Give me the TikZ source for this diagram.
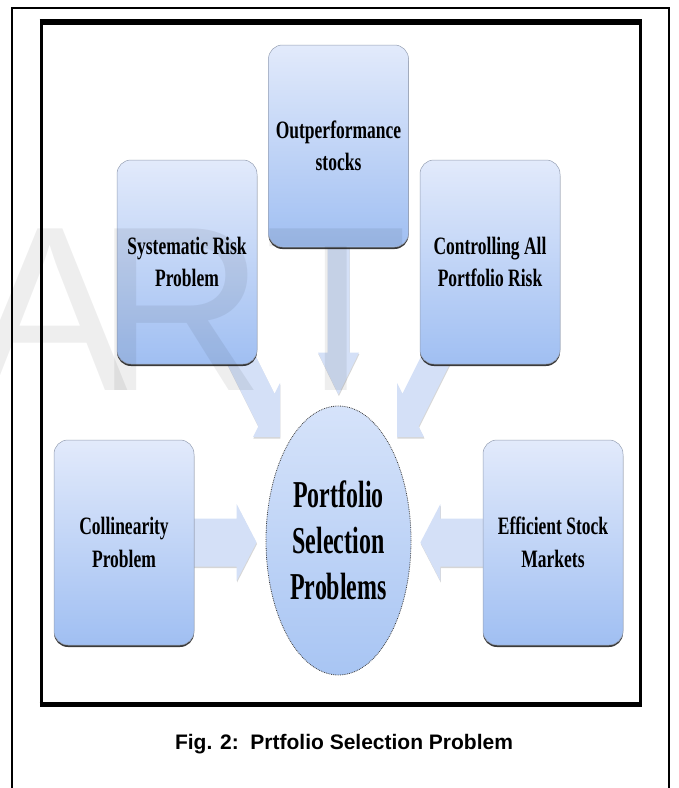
\documentclass[tikz,border=0pt]{standalone}
\usepackage{fontspec}
\setmainfont{Liberation Serif}
\newfontfamily\boxfont[FakeStretch=0.7]{Liberation Serif}
\newfontfamily\hubfont[FakeStretch=0.63]{Liberation Serif}
\newfontfamily\capfont{Liberation Sans}
\usetikzlibrary{calc,shadows,shapes.geometric}

\definecolor{boxtop}{RGB}{226,234,251}
\definecolor{boxbot}{RGB}{160,191,242}
\definecolor{hubtop}{RGB}{214,227,250}
\definecolor{hubbot}{RGB}{168,197,243}
\definecolor{boxedge}{RGB}{150,160,180}
\definecolor{arrowfill}{RGB}{212,224,247}

\pgfdeclarelayer{back}
\pgfdeclarelayer{front}
\pgfsetlayers{back,main,front}

\tikzset{
  topic/.style={rounded corners=14pt, minimum width=140pt, minimum height=204pt,
    top color=boxtop, bottom color=boxbot, draw=boxedge, line width=0.5pt,
    drop shadow={shadow xshift=0pt, shadow yshift=-2pt, fill=black!85, opacity=0.9},
    align=center, text=black, inner sep=0pt,
    font=\boxfont\bfseries\fontsize{25}{32.5}\selectfont},
  hubnode/.style={ellipse, minimum width=145pt, minimum height=269pt, inner sep=0pt,
    top color=hubtop, bottom color=hubbot, draw=black!75, densely dotted, line width=0.8pt,
    align=center, text=black,
    font=\hubfont\bfseries\fontsize{38}{46}\selectfont},
  flow/.style={fill=arrowfill, draw=none,
    drop shadow={shadow xshift=0.4pt, shadow yshift=-1.5pt, fill=black!35, opacity=0.45}},
  frame/.style={draw=black},
  wm/.style={font=\capfont\fontsize{235}{235}\selectfont, text=black, text opacity=0.065, inner sep=0pt},
  caption/.style={font=\capfont\bfseries\fontsize{21}{24}\selectfont, inner sep=0pt}
}

\begin{document}
\begin{tikzpicture}[x=1pt,y=-1pt]
\useasboundingbox (0,0) rectangle (679,788);

% page frame and figure frame
\draw[frame, line width=2pt] (11.5,7.5) rectangle (669,800);
\draw[frame, line width=3pt] (41,22) rectangle (640,704.5);
\draw[frame, line width=5.5pt] (39.5,22) -- (641.5,22);
\draw[frame, line width=5pt] (39.5,704.5) -- (641.5,704.5);

% central problem and the five topics around it
\node[hubnode] (hub) at (338.5,540.5) {Portfolio\\Selection\\Problems};
\node[topic, minimum height=202pt] (out) at (338.5,146) {Outperformance\\stocks};
\node[topic] (sys) at (187,262) {Systematic Risk\\Problem};
\node[topic] (ctl) at (490,262) {Controlling All\\Portfolio Risk};
\node[topic, minimum height=205pt] (col) at (124,542.5) {Collinearity\\Problem};
\node[topic, minimum height=205pt] (eff) at (553,542.5) {Efficient Stock\\Markets};

% block arrows pointing at the central ellipse
\coordinate (outTip) at ($(hub.north)+(0,-11)$);
\coordinate (sysTip) at ($(hub.center)+(-58.5,-103.5)$);
\coordinate (ctlTip) at ($(hub.center)+(58.5,-103.5)$);
\coordinate (colTip) at ($(col.east -| hub.west)+(-9,0)$);
\coordinate (effTip) at ($(eff.west -| hub.east)+(9,0)$);

\begin{pgfonlayer}{back}
  \fill[white] (0,0) rectangle (679,788);
  \fill[flow] ($(out.south)+(-11,-15)$) -- ($(outTip)+(-11,-42)$) -- ($(outTip)+(-20.5,-42)$)
    -- (outTip) -- ($(outTip)+(20.5,-42)$) -- ($(outTip)+(11,-42)$) -- ($(out.south)+(11,-15)$) -- cycle;
  \fill[flow] ($(sysTip)+(-40.4,-113.3)$) -- ($(sysTip)+(-5.4,-43.3)$) -- ($(sysTip)+(0,-54)$)
    -- (sysTip) -- ($(sysTip)+(-27,0)$) -- ($(sysTip)+(-21.6,-10.7)$) -- ($(sysTip)+(-56.6,-80.7)$) -- cycle;
  \fill[flow] ($(ctlTip)+(40.4,-113.3)$) -- ($(ctlTip)+(5.4,-43.3)$) -- ($(ctlTip)+(0,-54)$)
    -- (ctlTip) -- ($(ctlTip)+(27,0)$) -- ($(ctlTip)+(21.6,-10.7)$) -- ($(ctlTip)+(56.6,-80.7)$) -- cycle;
  \fill[flow] ($(col.east)+(-2,-24)$) -- ($(colTip)+(-20,-24)$) -- ($(colTip)+(-20,-38.5)$)
    -- (colTip) -- ($(colTip)+(-20,38.5)$) -- ($(colTip)+(-20,24)$) -- ($(col.east)+(-2,24)$) -- cycle;
  \fill[flow] ($(eff.west)+(2,-24)$) -- ($(effTip)+(20,-24)$) -- ($(effTip)+(20,-38.5)$)
    -- (effTip) -- ($(effTip)+(20,38.5)$) -- ($(effTip)+(20,24)$) -- ($(eff.west)+(2,24)$) -- cycle;
\end{pgfonlayer}

% faint lettering over the upper left part
\begin{pgfonlayer}{front}
  \node[wm, anchor=base] (wA) at (50,390) {A};
  \node[wm, anchor=base west] (wR) at (95,390) {R};
  \node[wm, anchor=base] (wT) at (336,390) {T};
\end{pgfonlayer}

% caption
\node[caption, anchor=base] (cap) at (344,749) {Fig. 2:\ \ Prtfolio Selection Problem};
\end{tikzpicture}
\end{document}
